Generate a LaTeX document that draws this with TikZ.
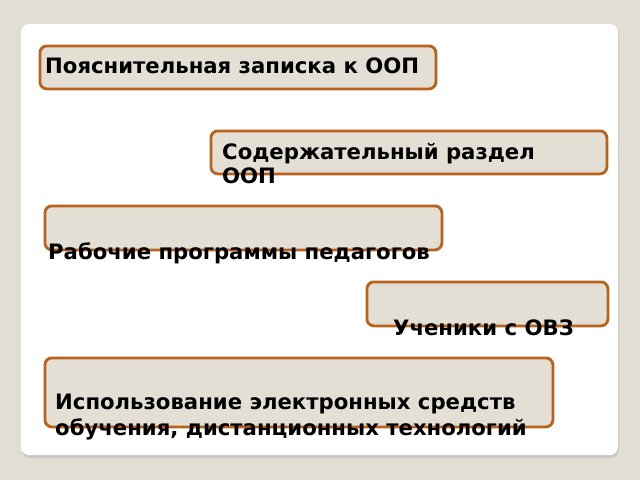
\documentclass[tikz,border=0pt]{standalone}
\usepackage{fontspec}
\setmainfont{DejaVu Sans}
\definecolor{pagebg}{HTML}{E2DED3}
\definecolor{boxfill}{HTML}{E3DFD5}
\definecolor{boxline}{HTML}{B8621B}
\begin{document}
\begin{tikzpicture}[x=1pt,y=-1pt,
    box/.style={draw=boxline, fill=boxfill, line width=2.8pt, rounded corners=7pt,
      anchor=north west, inner sep=0pt},
    lbl/.style={anchor=base west, inner sep=0pt, align=left,
      font=\bfseries\fontsize{21.2}{24}\selectfont}]
        % page and card
        \fill[pagebg] (0,0) rectangle (640,480);
        \useasboundingbox (0,0) rectangle (640,480);
        \fill[black!22, rounded corners=8pt] (22,26) rectangle (619,458);
        \fill[white, rounded corners=8pt] (21,24) rectangle (618,455);

        % boxes
        \node[box, minimum width=396pt, minimum height=43pt] (zapiska) at (38.5,44.5) {};
        \node[box, minimum width=396pt, minimum height=43pt] (razdel) at (209.5,129.5) {};
        \node[box, minimum width=397pt, minimum height=44pt] (programmy) at (43.5,204.5) {};
        \node[box, minimum width=241pt, minimum height=44pt] (ovz) at (365.5,280.5) {};
        \node[box, minimum width=508pt, minimum height=69pt] (sredstva) at (43.5,356.5) {};

        % texts (base = last line)
        \node[lbl] (zapiskatxt) at (45,73) {Пояснительная записка к ООП};
        \node[lbl] (razdeltxt) at (222,183) {Содержательный раздел\\ООП};
        \node[lbl] (programmytxt) at (48,259) {Рабочие программы педагогов};
        \node[lbl] (ovztxt) at (393,335) {Ученики с ОВЗ};
        \node[lbl, font=\bfseries\fontsize{21.2}{26}\selectfont] (sredstvatxt) at (55,435)
            {Использование электронных средств\\обучения, дистанционных технологий};
\end{tikzpicture}
\end{document}
